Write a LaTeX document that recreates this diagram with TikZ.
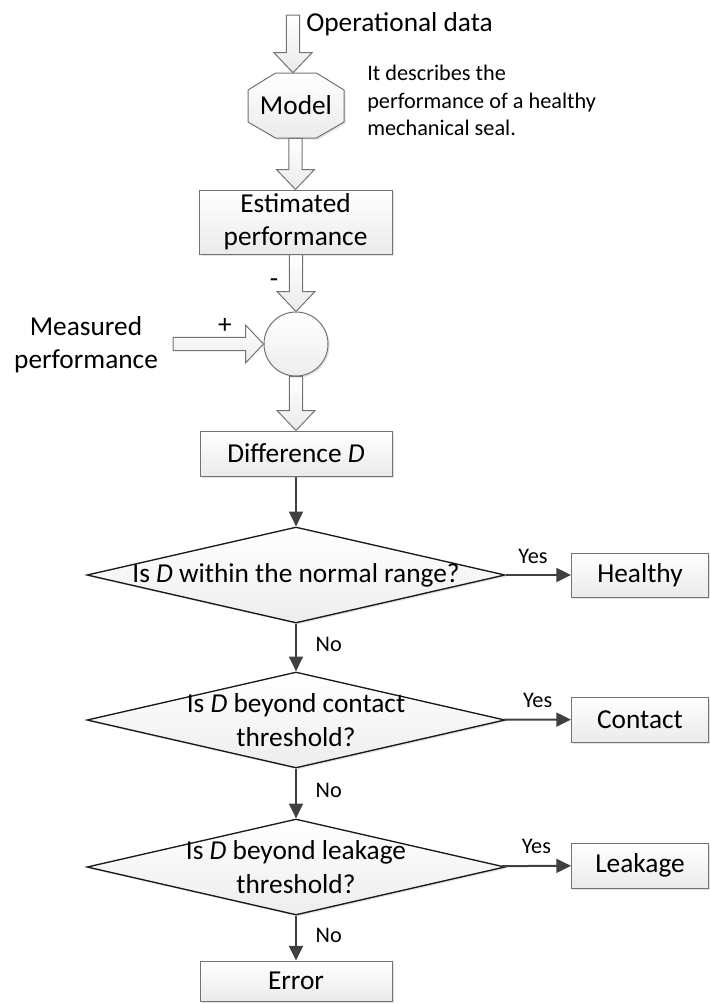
\documentclass[tikz,border=0pt]{standalone}
\usepackage{fontspec}
\setmainfont{Carlito}
\usetikzlibrary{arrows.meta,shapes.geometric,shadows,calc}
\newcommand\hollowdown[2]{\path[harrow] let \p1=(#1), \p2=(#2) in
  (\x2-4.9pt,\y1) -- (\x2-4.9pt,\y2+15pt) -- (\x2-14.25pt,\y2+15pt) -- (\x2,\y2)
  -- (\x2+14.25pt,\y2+15pt) -- (\x2+4.9pt,\y2+15pt) -- (\x2+4.9pt,\y1) -- cycle;}
\newcommand\hollowright[2]{\path[harrow] let \p1=(#1), \p2=(#2) in
  (\x1,\y2+4.9pt) -- (\x2-13.5pt,\y2+4.9pt) -- (\x2-13.5pt,\y2+14.25pt) -- (\x2,\y2)
  -- (\x2-13.5pt,\y2-14.25pt) -- (\x2-13.5pt,\y2-4.9pt) -- (\x1,\y2-4.9pt) -- cycle;}
\begin{document}
\begin{tikzpicture}[x=0.75pt,y=-0.75pt,
  mainf/.style={font=\fontsize{20.5}{25}\selectfont},
  smallf/.style={font=\fontsize{16.7}{20.6}\selectfont},
  shd/.style={drop shadow={shadow xshift=1.2pt,shadow yshift=-1.2pt,fill=black!25,opacity=0.45}},
  box/.style={mainf, rectangle, draw=black!55, line width=0.75pt, top color=white, bottom color=black!8, shd, inner sep=0pt, align=center},
  dia/.style={diamond, draw=black!90, line width=1pt, top color=white, bottom color=black!7, shd, inner sep=0pt, minimum width=313.5pt, minimum height=72pt},
  harrow/.style={draw=black!55, line width=0.75pt, top color=white, bottom color=black!8},
  conn/.style={draw=black!75, line width=1.5pt, -{Triangle[length=11pt,width=10.5pt]}},
  lbl/.style={smallf, inner sep=0pt},
]
\useasboundingbox (0,0) rectangle (710,1004);

% Model octagon
\coordinate (mc) at (296,105.5);
\path[harrow, shd] ($(mc)+(-20.5,-32.5)$) -- ($(mc)+(20.5,-32.5)$) -- ($(mc)+(48,-15.5)$) -- ($(mc)+(48,16.5)$)
  -- ($(mc)+(20.5,32.5)$) -- ($(mc)+(-20.5,32.5)$) -- ($(mc)+(-48,16.5)$) -- ($(mc)+(-48,-15.5)$) -- cycle;
\node[mainf, minimum width=72pt, minimum height=48.75pt, inner sep=0pt] (model) at (mc) {Model};

% Nodes
\node[box, minimum width=144.75pt, minimum height=48pt] (est) at (295.5,222) {Estimated\\performance};
\node[circle, draw=black!55, line width=0.75pt, top color=white, bottom color=black!7, shd, minimum size=48pt, inner sep=0pt] (circ) at (296,344) {};
\node[mainf, align=center, inner sep=0pt] (meas) at (86,345) {Measured\\performance};
\node[box, minimum width=144pt, minimum height=33.75pt] (diff) at (296,453.5) {Difference \textit{D}};

\node[dia] (d1) at (296,575) {};
\node[mainf, inner sep=0pt] (t1) at (d1) {Is \textit{D} within the normal range?};
\node[dia] (d2) at (296,720) {};
\node[mainf, inner sep=0pt, align=center] (t2) at (d2) {Is \textit{D} beyond contact\\threshold?};
\node[dia] (d3) at (296,867) {};
\node[mainf, inner sep=0pt, align=center] (t3) at (d3) {Is \textit{D} beyond leakage\\threshold?};

\node[box, minimum width=102.75pt, minimum height=33pt] (healthy) at (640,575) {Healthy};
\node[box, minimum width=102.75pt, minimum height=33.75pt] (contact) at (640,719.5) {Contact};
\node[box, minimum width=102.75pt, minimum height=33.75pt] (leak) at (640,865.5) {Leakage};
\node[box, minimum width=144pt, minimum height=30pt] (error) at (296,981) {Error};

% Texts
\node[mainf, anchor=base west, inner sep=0pt] (optext) at (306,31) {Operational data};
\node[smallf, anchor=base west, inner sep=0pt] (note1) at (367,80) {It describes the};
\node[smallf, anchor=base west, inner sep=0pt] (note2) at (367,108) {performance of a healthy};
\node[smallf, anchor=base west, inner sep=0pt] (note3) at (367,135) {mechanical seal.};
\node[mainf, inner sep=0pt] (minus) at (274,283) {-};
\node[mainf, inner sep=0pt] (plus) at (225,326) {+};

% Hollow arrows
\coordinate (opin) at (293,15);
\coordinate (mtail) at (173,343.5);
\hollowdown{opin}{opin |- model.north}
\hollowdown{model.south}{est.north}
\hollowdown{est.south}{circ.north}
\hollowdown{circ.south}{diff.north}
\hollowright{mtail}{circ.west}

% Connectors
\draw[conn] (diff) -- (d1);
\draw[conn] (d1) -- node[lbl, midway, anchor=west, xshift=14pt, yshift=2pt] (no1) {No} (d2);
\draw[conn] (d2) -- node[lbl, midway, anchor=west, xshift=14pt, yshift=2pt] (no2) {No} (d3);
\draw[conn] (d3) -- node[lbl, midway, anchor=west, xshift=14pt, yshift=2pt] (no3) {No} (error);
\draw[conn] (d1) -- node[lbl, midway, anchor=base, xshift=-4pt, yshift=9pt] (yes1) {Yes} (healthy);
\draw[conn] (d2) -- node[lbl, midway, anchor=base, yshift=9pt] (yes2) {Yes} (contact);
\draw[conn] (d3) -- node[lbl, midway, anchor=base, yshift=9pt] (yes3) {Yes} (leak);
\end{tikzpicture}
\end{document}
